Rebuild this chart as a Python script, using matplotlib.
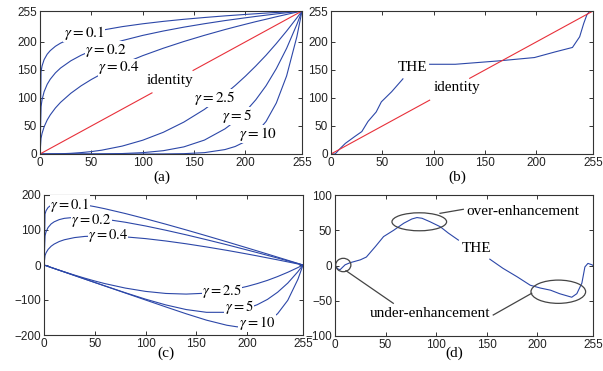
import numpy as np
import matplotlib
matplotlib.use("Agg")
import matplotlib.pyplot as plt
from matplotlib.patches import Ellipse

plt.rcParams['mathtext.fontset'] = 'stix'

# ---------------- data ----------------
gx = [0, 1, 2, 4, 7, 10, 15, 20, 30, 40, 50, 60, 80, 100, 120, 140, 160, 180,
      190, 200, 210, 220, 230, 240, 250, 255]
g01 = [0, 146.5, 157.0, 168.3, 178.0, 184.4, 192.1, 197.7, 205.9, 211.9, 216.7, 220.7,
       227.1, 232.2, 236.5, 240.2, 243.4, 246.3, 247.6, 248.9, 250.1, 251.3, 252.4,
       253.5, 254.5, 255]
g02 = [0, 84.2, 96.7, 111.1, 124.3, 133.4, 144.7, 153.3, 166.2, 176.1, 184.1, 190.9,
       202.2, 211.5, 219.3, 226.2, 232.3, 237.9, 240.4, 242.9, 245.3, 247.6, 249.8,
       251.9, 254.0, 255]
g04 = [0, 27.8, 36.7, 48.4, 60.6, 69.8, 82.1, 92.1, 108.3, 121.6, 132.9, 142.9,
       160.4, 175.4, 188.6, 200.6, 211.6, 221.9, 226.7, 231.4, 236.0, 240.3, 244.7,
       248.9, 253.0, 255]
g25 = [0, 0, 0, 0, 0.03, 0.08, 0.21, 0.44, 1.2, 2.5, 4.3, 6.8, 14.1, 24.6, 38.7,
       56.9, 79.5, 106.8, 122.2, 138.9, 156.9, 176.1, 197.0, 219.2, 242.7, 255]
g5 = [0, 0, 0, 0, 0, 0, 0, 0, 0, 0.02, 0.07, 0.2, 0.8, 2.4, 5.9, 12.7, 24.8, 44.8,
      58.6, 75.7, 96.6, 121.7, 152.2, 188.3, 231.0, 255]
g10 = [0, 0, 0, 0, 0, 0, 0, 0, 0, 0, 0, 0, 0, 0.02, 0.14, 0.6, 2.4, 7.9, 13.4, 22.4,
       36.6, 58.0, 90.9, 139.1, 209.2, 255]
gammas = [g01, g02, g04, g25, g5, g10]
gamma_labels = ["0.1", "0.2", "0.4", "2.5", "5", "10"]

# identity line with the gap left for its label
id_a_x = [0, 109, np.nan, 149, 255]
id_b_x = [0, 96, np.nan, 135, 255]

# THE mapping (b), gap where its label sits
the_x = [0, 4, 9, 14, 23, 30, 36, 44, 49, 59, 70, np.nan, 96, 121, 163, 198, 218, 235,
         242, 246, 249, 252, 255]
the_y = [0, 0, 10, 19, 31, 40, 58, 75, 93, 111, 134, np.nan, 160, 160, 166, 172, 182, 190,
         209, 233, 248, 255, 255]

# THE minus identity (d), gap where its label sits
d_x = [0, 3, 5, 10, 15, 25, 31, 40, 48, 58, 68, 76, 81, 86, 94, 104, 112, 122, np.nan,
       153, 166, 180, 193, 203, 213, 222, 234, 239, 244, 247, 250, 254, 255]
d_y = [0, -5, -6, 1, 4, 8, 12, 27, 41, 50, 60, 66, 68, 67, 62, 55, 46, 36, np.nan, 9, -4,
       -16, -28, -32, -35, -40, -45, -40, -25, -2, 3, 1, 0]

xticks = [0, 50, 100, 150, 200, 255]

# ---------------- style ----------------
BLUE = '#2c47a8'
RED = '#e8303a'
SPINE = '#333333'
SERIF = 'Liberation Serif'
TFS = 11

fig = plt.figure(figsize=(6.03, 3.71), dpi=100)
W, H = 603.0, 371.0


def mkax(l, t, r, b):
    return fig.add_axes([l / W, 1 - b / H, (r - l) / W, (b - t) / H])


def style(ax, yticks, ylim):
    ax.set_xlim(0, 255)
    ax.set_ylim(*ylim)
    ax.set_xticks(xticks)
    ax.set_yticks(yticks)
    ax.tick_params(direction='in', length=3, width=0.7, color=SPINE,
                   top=True, right=True, labelsize=8.5, labelcolor='#222222', pad=2)
    for lab in ax.get_xticklabels() + ax.get_yticklabels():
        lab.set_fontfamily('Liberation Sans')
    for s in ax.spines.values():
        s.set_color(SPINE)
        s.set_linewidth(0.8)


def lab(ax, x, y, s, fs=TFS, **kw):
    ax.text(x, y, s, fontsize=fs, family=SERIF, ha='center', va='center',
            bbox=dict(facecolor='white', edgecolor='none', pad=0.3), zorder=5, **kw)


# (a)
axa = mkax(40, 11, 302, 154)
for g in gammas:
    axa.plot(gx, g, color=BLUE, lw=0.8)
axa.plot(id_a_x, id_a_x, color=RED, lw=0.8)
style(axa, xticks, (0, 255))
pos_a = [(42.8, 215.8), (64.2, 185.4), (76.9, 153.4), (170.3, 99.9), (191.7, 67.8),
         (212.2, 35.7)]
for (x, y), s in zip(pos_a, gamma_labels):
    lab(axa, x, y, r"$\gamma = %s$" % s)
lab(axa, 126.5, 131, "identity")

# (b)
axb = mkax(331, 11, 593, 154)
axb.plot(the_x, the_y, color=BLUE, lw=0.8)
axb.plot(id_b_x, id_b_x, color=RED, lw=0.8)
style(axb, xticks, (0, 255))
lab(axb, 79, 153.4, "THE")
lab(axb, 122.6, 117.7, "identity")

# (c)
axc = mkax(44, 195, 303, 335)
for g in gammas:
    axc.plot(gx, np.array(g) - np.array(gx), color=BLUE, lw=0.8)
style(axc, [-200, -100, 0, 100, 200], (-200, 200))
pos_c = [(25.6, 172), (46.3, 128), (63, 83), (175.2, -74.3), (192, -121),
         (209.7, -165)]
for (x, y), s in zip(pos_c, gamma_labels):
    lab(axc, x, y, r"$\gamma = %s$" % s, fs=10.5)

# (d)
axd = mkax(335, 195, 593, 336)
axd.plot(d_x, d_y, color=BLUE, lw=0.8)
style(axd, [-100, -50, 0, 50, 100], (-100, 100))
lab(axd, 140.3, 24.8, "THE")
ek = dict(facecolor='none', edgecolor='#444444', lw=0.9, zorder=4)
axd.add_patch(Ellipse((83.3, 62), 54, 25.5, **ek))
axd.add_patch(Ellipse((8.2, 0.7), 15, 19, **ek))
axd.add_patch(Ellipse((220.7, -37.2), 54, 33, **ek))
axd.plot([103.8, 126.8], [74, 79.7], color='#444444', lw=0.9)
axd.plot([10.9, 57.6], [-7.4, -53.6], color='#444444', lw=0.9)
axd.plot([156.4, 194.4], [-70.2, -39.4], color='#444444', lw=0.9)
axd.text(130, 77.3, "over-enhancement", fontsize=TFS, family=SERIF, ha='left',
         va='center')
axd.text(93.9, -67.4, "under-enhancement", fontsize=TFS, family=SERIF, ha='center',
         va='center')

# panel labels
for x, y, s in [(162, 177, "(a)"), (457, 177, "(b)"), (166, 353, "(c)"), (454, 353, "(d)")]:
    fig.text(x / W, 1 - y / H, s, fontsize=TFS, family=SERIF, ha='center', va='center')

fig.savefig("out.png", dpi=100)
